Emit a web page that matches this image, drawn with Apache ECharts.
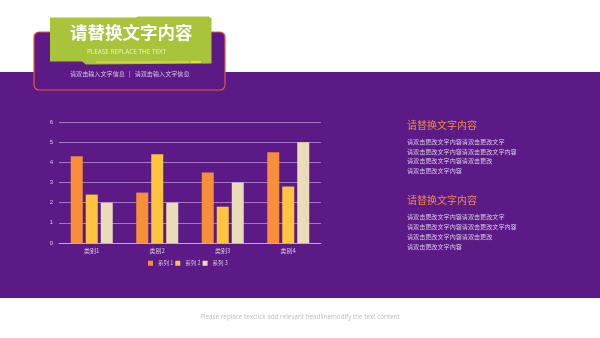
<!DOCTYPE html>
<html>
<head>
<meta charset="utf-8">
<script src="https://cdn.jsdelivr.net/npm/echarts@6/dist/echarts.min.js"></script>
<style>
  html, body { margin: 0; padding: 0; background: #fff; }
  #chart { width: 600px; height: 338px; }
</style>
</head>
<body>
<div id="chart"></div>
<script>
const categories = ['类别1', '类别2', '类别3', '类别4']
const seriesNames = ['系列 1', '系列 2', '系列 3']
const series1 = [4.3, 2.5, 3.5, 4.5]
const series2 = [2.4, 4.4, 1.8, 2.8]
const series3 = [2.0, 2.0, 3.0, 5.0]
const barColors = ['#F68E3A', '#FFC43E', '#EBDCB9']
const bodyLines = [
  '请双击更改文字内容请双击更改文字',
  '请双击更改文字内容请双击更改文字内容',
  '请双击更改文字内容请双击更改',
  '请双击更改文字内容'
]

const purple = '#5B1A85'
const cjk = '"Noto Sans CJK SC", "Noto Sans", sans-serif'

const chart = echarts.init(document.getElementById('chart'))

// 右侧文字块
const textBlock = (top) => {
  const items = [{
    type: 'text', left: 407, top: top,
    style: { text: '请替换文字内容', fill: '#F28C3F', font: '10px ' + cjk }
  }]
  bodyLines.forEach((line, i) => {
    items.push({
      type: 'text', left: 407, top: top + 18.5 + i * 9.8,
      style: { text: line, fill: '#DCCDEA', font: '6.1px ' + cjk }
    })
  })
  return items
}

const options = {
  backgroundColor: '#fff',
  color: barColors,
  grid: { left: 59, right: 279, top: 122, bottom: 95 },
  legend: {
    bottom: 72,
    left: 148,
    padding: 0,
    itemWidth: 5,
    itemHeight: 5,
    itemGap: 2,
    icon: 'rect',
    textStyle: { color: '#D9CBE6', fontSize: 5.5, fontFamily: cjk },
    data: seriesNames
  },
  xAxis: {
    type: 'category',
    data: categories,
    axisLine: { lineStyle: { color: 'rgba(220,190,245,0.6)' } },
    axisTick: { show: false },
    axisLabel: { color: '#D9CBE6', fontSize: 6, fontFamily: cjk, margin: 5 }
  },
  yAxis: {
    type: 'value',
    min: 0, max: 6, interval: 1,
    axisLine: { show: false },
    axisTick: { show: false },
    splitLine: { lineStyle: { color: 'rgba(215,180,245,0.6)', width: 1 } },
    axisLabel: { color: '#D9CBE6', fontSize: 6, margin: 6 }
  },
  series: [series1, series2, series3].map((d, i) => ({
    name: seriesNames[i],
    type: 'bar',
    data: d,
    barWidth: 12,
    barGap: '25%',
    z: 5
  })),
  graphic: [
    // 紫色背景带
    { type: 'rect', shape: { x: 0, y: 72, width: 600, height: 226 }, style: { fill: purple }, z: -10 },
    // 标题外框
    { type: 'rect', shape: { x: 34, y: 32, width: 191, height: 58, r: 5 },
      style: { fill: purple, stroke: '#E8593C', lineWidth: 1.2 }, z: -5 },
    // 绿色标题块
    { type: 'polygon',
      shape: { points: [[50, 17.5], [136, 17.5], [138, 16.5], [209, 16.5], [211.5, 18.5], [211.5, 63.5], [86, 64.5], [82, 61.5], [50, 61.5]] },
      style: { fill: '#A7C43B' }, z: 1 },
    { type: 'text', left: 70, top: 24,
      style: { text: '请替换文字内容', fill: '#fff', font: 'bold 17.5px ' + cjk }, z: 2 },
    { type: 'text', left: 87, top: 49,
      style: { text: 'PLEASE REPLACE THE TEXT', fill: '#EEF2C8', font: '6.4px "Open Sans", sans-serif' }, z: 2 },
    { type: 'rect', shape: { x: 96, y: 61.5, width: 93, height: 1 }, style: { fill: '#E3E93A' }, z: 2 },
    { type: 'rect', shape: { x: 191, y: 61, width: 10, height: 1.8 }, style: { fill: '#E3E93A' }, z: 2 },
    { type: 'text', left: 70, top: 70.5,
      style: { text: '请双击输入文字信息   |   请双击输入文字信息', fill: '#D8C8E8', font: '6.1px ' + cjk }, z: 2 },
    ...textBlock(120),
    ...textBlock(195.5),
    // 底部英文
    { type: 'text', left: 'center', top: 314,
      style: { text: 'Please replace texclick add relevant headlinemodify the text content', fill: '#BDBDBD', font: '6.3px "Open Sans", sans-serif' } }
  ]
}

chart.setOption(options)
</script>
</body>
</html>
